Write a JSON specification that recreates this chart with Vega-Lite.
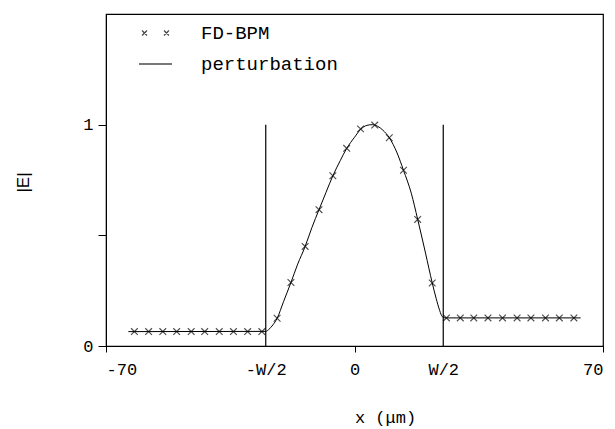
{
  "$schema": "https://vega.github.io/schema/vega-lite/v6.json",
  "width": 497,
  "height": 332,
  "autosize": "none",
  "padding": {"left": 106, "top": 14, "right": 12, "bottom": 83},
  "background": "white",
  "config": {
    "view": {"stroke": "black", "strokeWidth": 1.2},
    "axis": {
      "domainColor": "black", "tickColor": "black", "labelColor": "black", "titleColor": "black",
      "grid": false, "labelFont": "Liberation Mono", "titleFont": "Liberation Mono",
      "labelFontWeight": "normal", "titleFontWeight": "normal"
    }
  },
  "datasets": {
    "line": [
      {"x": -63.7, "y": 0.065}, {"x": -25, "y": 0.066}, {"x": -24.2, "y": 0.074}, {"x": -23, "y": 0.095},
      {"x": -21.8, "y": 0.125}, {"x": -20, "y": 0.2}, {"x": -17.9, "y": 0.287}, {"x": -16, "y": 0.37},
      {"x": -13.9, "y": 0.45}, {"x": -12, "y": 0.535}, {"x": -10, "y": 0.616}, {"x": -8, "y": 0.695},
      {"x": -6.1, "y": 0.769}, {"x": -4, "y": 0.838}, {"x": -2.2, "y": 0.893}, {"x": 0, "y": 0.943},
      {"x": 1.7, "y": 0.978}, {"x": 3.5, "y": 0.997}, {"x": 5, "y": 1.0}, {"x": 6.5, "y": 0.993},
      {"x": 8, "y": 0.975}, {"x": 9.8, "y": 0.941}, {"x": 12, "y": 0.872}, {"x": 13.8, "y": 0.794},
      {"x": 16, "y": 0.69}, {"x": 17.8, "y": 0.572}, {"x": 20, "y": 0.42}, {"x": 21.9, "y": 0.285},
      {"x": 23, "y": 0.215}, {"x": 24, "y": 0.16}, {"x": 24.7, "y": 0.133}, {"x": 25.5, "y": 0.127},
      {"x": 63.7, "y": 0.127}
    ],
    "markers": [
      {"x": -62, "y": 0.065}, {"x": -58, "y": 0.065}, {"x": -54, "y": 0.065}, {"x": -50.1, "y": 0.065},
      {"x": -46, "y": 0.065}, {"x": -42.2, "y": 0.065}, {"x": -38.1, "y": 0.065}, {"x": -34.1, "y": 0.065},
      {"x": -30.1, "y": 0.065}, {"x": -26.1, "y": 0.065},
      {"x": -21.8, "y": 0.125}, {"x": -17.9, "y": 0.287}, {"x": -13.9, "y": 0.45}, {"x": -10, "y": 0.616},
      {"x": -6.1, "y": 0.769}, {"x": -2.2, "y": 0.893}, {"x": 1.7, "y": 0.981}, {"x": 5.7, "y": 0.998},
      {"x": 9.8, "y": 0.941}, {"x": 13.8, "y": 0.794}, {"x": 17.8, "y": 0.572}, {"x": 21.9, "y": 0.285},
      {"x": 25.9, "y": 0.127}, {"x": 29.8, "y": 0.127}, {"x": 33.6, "y": 0.127}, {"x": 37.6, "y": 0.127},
      {"x": 41.7, "y": 0.127}, {"x": 45.8, "y": 0.127}, {"x": 49.7, "y": 0.127}, {"x": 53.8, "y": 0.127},
      {"x": 57.7, "y": 0.127}, {"x": 61.8, "y": 0.127}
    ],
    "walls": [
      {"x": -25, "y0": 0, "y1": 1.0},
      {"x": 25, "y0": 0, "y1": 1.0}
    ],
    "legendItems": []
  },
  "layer": [
    {
      "data": {"name": "line"},
      "mark": {"type": "line", "color": "black", "strokeWidth": 1, "interpolate": "monotone"},
      "encoding": {
        "x": {
          "field": "x", "type": "quantitative",
          "scale": {"domain": [-70, 70], "nice": false},
          "axis": {
            "values": [-70, -25, 0, 25, 70],
            "labelExpr": "datum.value == -70 ? '-70' : datum.value == -25 ? '-W/2' : datum.value == 0 ? '0' : datum.value == 25 ? 'W/2' : '70'",
            "labelFontSize": 17, "labelBaseline": "alphabetic", "labelPadding": 22, "tickSize": 6,
            "tickOpacity": {"condition": {"test": "abs(datum.value) == 25", "value": 0}, "value": 1},
            "title": "x  (μm)", "titleFontSize": 17, "titleX": 279, "titleY": 76,
            "titleBaseline": "alphabetic", "titleAlign": "center", "titleAnchor": null
          }
        },
        "y": {
          "field": "y", "type": "quantitative",
          "scale": {"domain": [0, 1.5], "nice": false},
          "axis": {
            "values": [0, 0.5, 1],
            "labelExpr": "datum.value == 0 ? '0' : datum.value == 1 ? '1' : ''",
            "labelFontSize": 17, "labelPadding": 5, "tickSize": 8,
            "title": "|E|", "titleFont": "Liberation Sans Narrow, Liberation Sans", "titleFontSize": 17,
            "titleX": -83, "titleY": 168, "titleBaseline": "middle", "titleAlign": "center", "titleAngle": -90
          }
        }
      }
    },
    {
      "data": {"name": "walls"},
      "mark": {"type": "rule", "color": "black", "strokeWidth": 1.2},
      "encoding": {
        "x": {"field": "x", "type": "quantitative"},
        "y": {"field": "y0", "type": "quantitative"},
        "y2": {"field": "y1"}
      }
    },
    {
      "data": {"name": "markers"},
      "mark": {"type": "point", "filled": false, "color": "black", "strokeWidth": 1.1, "size": 45, "shape": "M-1,-1L1,1M-1,1L1,-1"},
      "encoding": {
        "x": {"field": "x", "type": "quantitative"},
        "y": {"field": "y", "type": "quantitative"}
      }
    },
    {
      "data": {"name": "legendItems"},
      "mark": {"type": "point", "filled": false, "color": "black", "strokeWidth": 1.3},
      "encoding": {
        "x": {"field": "x", "type": "quantitative"},
        "y": {"field": "y", "type": "quantitative"},
        "shape": {
          "field": "series", "type": "nominal",
          "scale": {
            "domain": ["FD-BPM", "perturbation"],
            "range": ["M-1.63,-0.3L-1.03,0.3M-1.63,0.3L-1.03,-0.3M1.03,-0.3L1.63,0.3M1.03,0.3L1.63,-0.3", "M-2,0L2,0"]
          },
          "legend": {
            "title": null, "orient": "none", "legendX": 40, "legendY": 9.5, "padding": 0,
            "labelFont": "Liberation Mono", "labelFontSize": 19, "labelColor": "black",
            "labelOffset": 36, "rowPadding": 11, "symbolSize": 272, "symbolStrokeColor": "black",
            "symbolStrokeWidth": 1.3
          }
        }
      }
    }
  ]
}
